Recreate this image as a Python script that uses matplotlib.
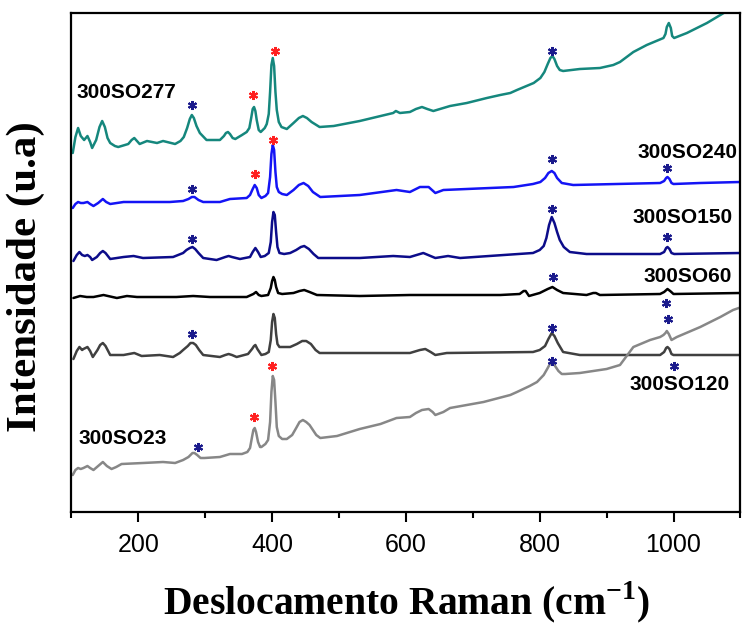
import matplotlib
matplotlib.use("Agg")
import matplotlib.pyplot as plt
from matplotlib.ticker import MultipleLocator

# ---------------- data: (wavenumber cm-1, intensity in arbitrary offset units) ----------------
pts_277 = [(102, 359), (106, 375), (110, 384), (114, 376), (119, 372), (124, 376), (128, 370), (131, 364),
           (137, 372), (142, 385), (146, 391), (150, 385), (154, 374), (158, 369), (165, 366), (170, 365),
           (185, 368), (190, 372), (194, 374), (198, 371), (202, 368), (213, 371), (228, 369), (237, 371),
           (255, 368), (263, 371), (268, 375), (273, 384), (277, 393), (280, 397), (283, 394), (287, 386),
           (292, 379), (302, 372), (322, 372), (328, 376), (331, 379), (334, 380), (337, 378), (341, 374),
           (345, 373), (355, 377), (362, 380), (366, 384), (369, 395), (371, 403), (373, 405), (375, 401),
           (377, 392), (380, 382), (383, 380), (389, 384), (392, 388), (395, 398), (397, 420), (399, 447),
           (401, 454), (403, 446), (405, 420), (407, 402), (410, 390), (414, 385), (422, 383), (432, 389),
           (440, 394), (446, 396), (452, 394), (459, 390), (471, 385), (492, 386), (531, 391), (581, 399),
           (585, 401), (591, 399), (606, 400), (615, 403), (624, 405), (632, 403), (641, 401), (666, 406),
           (691, 409), (721, 414), (741, 417), (756, 419), (766, 422), (791, 429), (801, 434), (807, 440),
           (812, 448), (816, 454), (819, 456), (822, 453), (826, 446), (830, 442), (835, 441), (860, 443),
           (890, 444), (910, 447), (920, 450), (940, 460), (960, 467), (985, 474), (988, 478), (990, 485),
           (993, 489), (996, 484), (998, 476), (1001, 474), (1020, 479), (1050, 489), (1075, 499),
           (1100, 512)]

pts_240 = [(102, 304), (106, 308), (110, 310), (114, 309), (118, 309), (124, 310), (128, 308), (133, 306),
           (140, 309), (147, 313), (152, 310), (158, 308), (178, 310), (207, 310), (247, 310), (267, 311),
           (275, 313), (280, 315), (284, 315), (290, 312), (297, 310), (322, 310), (337, 313), (362, 314),
           (367, 317), (371, 323), (374, 327), (377, 324), (380, 317), (384, 314), (390, 316), (394, 319),
           (397, 335), (399, 358), (401, 367), (403, 362), (405, 340), (407, 325), (410, 320), (415, 318),
           (422, 317), (432, 322), (440, 327), (447, 329), (454, 326), (461, 320), (472, 315), (531, 317),
           (586, 322), (606, 320), (621, 325), (634, 325), (644, 319), (656, 322), (761, 325), (790, 328),
           (801, 330), (808, 334), (813, 339), (818, 341), (822, 339), (826, 334), (833, 329), (850, 327),
           (980, 329), (986, 331), (989, 334), (991, 335), (994, 333), (997, 329), (1000, 328), (1040, 329),
           (1100, 330)]

pts_150 = [(103, 251), (108, 257), (112, 260), (116, 257), (120, 256), (124, 257), (128, 255), (131, 252),
           (138, 255), (143, 259), (147, 261), (151, 259), (158, 253), (178, 255), (193, 256), (207, 254),
           (252, 255), (267, 259), (272, 262), (277, 264), (281, 265), (285, 263), (290, 259), (297, 254),
           (317, 252), (330, 255), (335, 256), (340, 255), (352, 253), (367, 255), (371, 260), (375, 264),
           (379, 260), (383, 255), (389, 256), (395, 259), (398, 270), (400, 290), (402, 300), (404, 297),
           (406, 280), (408, 265), (411, 259), (418, 258), (427, 259), (436, 262), (443, 265), (448, 266),
           (455, 263), (462, 258), (469, 254), (531, 254), (581, 256), (606, 255), (626, 259), (644, 254),
           (663, 256), (681, 254), (790, 259), (800, 262), (806, 266), (810, 274), (814, 287), (818, 295),
           (822, 289), (826, 280), (830, 272), (836, 265), (845, 260), (870, 258), (980, 258), (986, 260),
           (989, 264), (991, 265), (994, 263), (997, 259), (1001, 258), (1100, 259)]

pts_60 = [(103, 214), (113, 216), (123, 215), (133, 215), (148, 217), (168, 214), (183, 216), (198, 215),
          (232, 215), (257, 215), (282, 216), (307, 215), (362, 215), (372, 218), (376, 220), (380, 217),
          (384, 216), (394, 217), (398, 224), (400, 231), (402, 235), (404, 232), (406, 225), (409, 219),
          (415, 218), (432, 219), (441, 221), (448, 222), (456, 220), (467, 217), (531, 216), (606, 217),
          (741, 217), (770, 218), (776, 221), (779, 221), (784, 216), (800, 219), (812, 223), (819, 225),
          (826, 222), (835, 219), (870, 217), (880, 219), (884, 219), (890, 217), (980, 218), (986, 220),
          (991, 223), (995, 221), (1000, 218), (1100, 219)]

pts_120 = [(103, 153), (108, 161), (112, 165), (116, 162), (118, 163), (124, 165), (128, 161), (132, 155),
           (139, 162), (143, 167), (147, 169), (151, 166), (158, 157), (178, 157), (194, 159), (205, 156),
           (232, 157), (252, 155), (262, 159), (267, 162), (274, 166), (278, 169), (282, 169), (286, 167),
           (291, 162), (297, 157), (322, 155), (330, 157), (335, 158), (340, 157), (347, 155), (364, 158),
           (370, 163), (373, 166), (375, 167), (378, 163), (384, 157), (390, 158), (395, 160), (398, 172),
           (400, 190), (402, 198), (404, 194), (406, 178), (408, 168), (411, 165), (420, 165), (427, 165),
           (437, 168), (445, 171), (451, 171), (458, 168), (465, 162), (471, 159), (531, 159), (606, 159),
           (621, 162), (629, 163), (637, 160), (644, 157), (661, 159), (790, 160), (800, 162), (808, 166),
           (813, 173), (818, 179), (822, 176), (827, 169), (835, 160), (860, 157), (980, 157), (986, 160),
           (989, 164), (991, 165), (994, 163), (997, 158), (1000, 157), (1100, 157)]

pts_23 = [(102, 37), (106, 42), (110, 44), (114, 43), (118, 44), (124, 46), (128, 44), (133, 42), (140, 46),
          (147, 50), (153, 46), (160, 43), (167, 45), (175, 48), (207, 49), (237, 50), (255, 49), (267, 52),
          (275, 55), (281, 59), (284, 59), (288, 57), (293, 54), (299, 54), (322, 55), (337, 58), (355, 58),
          (363, 60), (367, 64), (370, 75), (372, 82), (374, 84), (376, 80), (379, 70), (382, 65), (384, 65),
          (390, 68), (394, 72), (397, 90), (399, 120), (401, 136), (403, 132), (405, 110), (407, 85),
          (410, 76), (415, 73), (422, 73), (430, 77), (436, 84), (441, 90), (446, 92), (451, 90), (456, 87),
          (461, 82), (466, 77), (472, 74), (497, 76), (531, 83), (562, 88), (586, 94), (606, 95), (615, 99),
          (624, 102), (634, 103), (640, 100), (644, 97), (656, 100), (666, 104), (716, 110), (756, 117),
          (766, 120), (785, 126), (796, 130), (806, 137), (812, 144), (816, 149), (819, 150), (823, 146),
          (828, 141), (833, 138), (838, 138), (860, 139), (900, 143), (920, 147), (940, 165), (965, 172),
          (980, 175), (985, 177), (988, 179), (990, 181), (993, 178), (997, 172), (1005, 175), (1040, 185),
          (1070, 195), (1089, 202), (1102, 205)]

series_pts = [pts_277, pts_240, pts_150, pts_60, pts_120, pts_23]
series_colors = ["#15877d", "#1414f5", "#0c0c8a", "#000000", "#404040", "#878787"]

labels = ["300SO277", "300SO240", "300SO150", "300SO60", "300SO120", "300SO23"]
label_x = [108, 1096, 1089, 1087, 1084, 110]
label_y = [419, 360, 295, 236, 128, 73]
label_ha = ["left", "right", "right", "right", "right", "left"]

# asterisks marking peaks
star_blue_x = [280, 819, 281, 819, 991, 280, 818, 991, 820, 989, 280, 819, 992, 1000, 289, 818]
star_blue_y = [407, 461, 323, 353, 344, 273, 303, 275, 235, 209, 178, 184, 193, 146, 65, 151]
star_red_x = [371, 404, 374, 402, 373, 400]
star_red_y = [417, 461, 338, 372, 95, 146]

xticks = [200, 400, 600, 800, 1000]

# ---------------- figure ----------------
plt.rcParams["mathtext.fontset"] = "custom"
plt.rcParams["mathtext.rm"] = "Liberation Serif:bold"
plt.rcParams["mathtext.bf"] = "Liberation Serif:bold"

fig = plt.figure(figsize=(7.42, 6.24), dpi=100)
ax = fig.add_axes([71.4 / 742, 1 - 512 / 624, 669 / 742, 499 / 624])

for pts, c in zip(series_pts, series_colors):
    xs = [p[0] for p in pts]
    ys = [p[1] for p in pts]
    ax.plot(xs, ys, color=c, lw=1.8, solid_joinstyle="round", solid_capstyle="round")

ax.plot(star_blue_x, star_blue_y, ls="none", marker=(6, 2, 0), ms=6.5, mew=1.5,
        color="#1a1a8c")
ax.plot(star_red_x, star_red_y, ls="none", marker=(6, 2, 0), ms=6.5, mew=1.5,
        color="#ff2020")

for t, lx, ly, ha in zip(labels, label_x, label_y, label_ha):
    ax.text(lx, ly, t, ha=ha, va="center", fontsize=15, fontweight="bold",
            family=["Liberation Sans", "DejaVu Sans"])

ax.set_xlim(100, 1100)
ax.set_ylim(0, 499)
ax.set_xticks(xticks)
ax.xaxis.set_minor_locator(MultipleLocator(100))
ax.set_yticks([])
ax.tick_params(axis="x", which="major", length=7, width=1.5, direction="out", pad=8,
               labelsize=18)
ax.tick_params(axis="x", which="minor", length=4, width=1.5, direction="out")
for lab in ax.get_xticklabels():
    lab.set_family(["Liberation Sans", "DejaVu Sans"])
for sp in ax.spines.values():
    sp.set_linewidth(1.6)

fig.text(406 / 742, 1 - 602 / 624, r"Deslocamento Raman (cm$^{\mathbf{-1}}$)", ha="center",
         va="center", fontsize=28.5, fontweight="bold", family=["Liberation Serif", "DejaVu Serif"])
fig.text(26 / 742, 1 - 277 / 624, "Intensidade (u.a)", ha="center", va="center", rotation=90,
         fontsize=31, fontweight="bold", family=["Liberation Serif", "DejaVu Serif"])

fig.savefig("out.png", dpi=100)
